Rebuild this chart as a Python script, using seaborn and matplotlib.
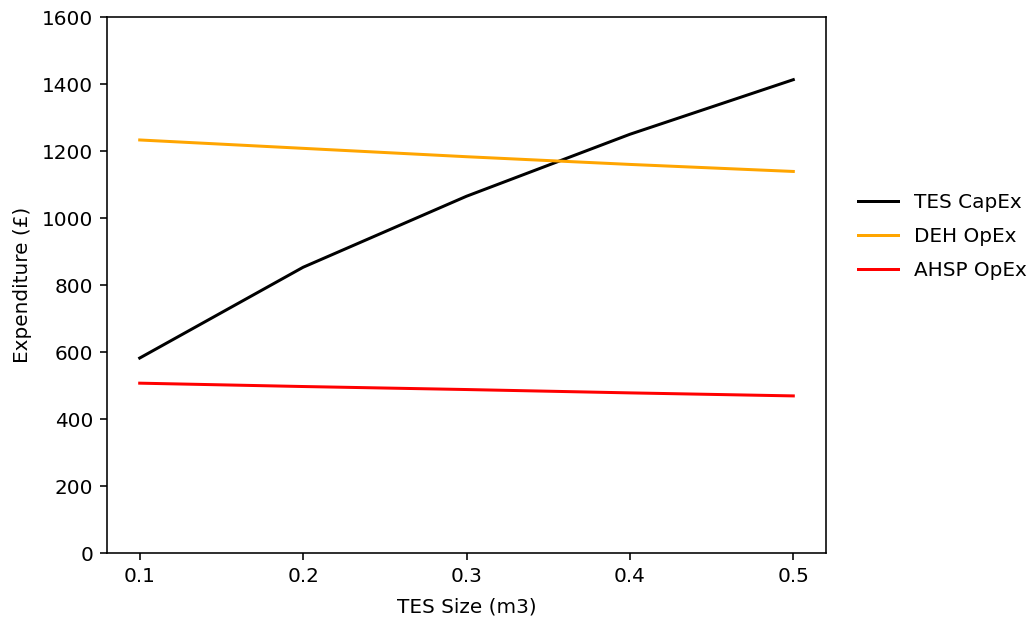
import matplotlib
matplotlib.use("Agg")
import matplotlib.pyplot as plt
import seaborn as sns
import pandas as pd

tes_size = [0.1, 0.2, 0.3, 0.4, 0.5]
tes_capex = [582, 853, 1065, 1250, 1413]
deh_opex = [1233, 1208, 1183, 1160, 1139]
ahsp_opex = [507, 497, 488, 478, 469]

series = [("TES CapEx", tes_capex, "black"),
          ("DEH OpEx", deh_opex, "orange"),
          ("AHSP OpEx", ahsp_opex, "red")]

DPI = 144
fig = plt.figure(figsize=(1033 / DPI, 619 / DPI), dpi=DPI)
ax = fig.add_axes([0.1036, 0.1066, 0.6960, 0.8659])
for name, vals, col in series:
    df = pd.DataFrame({"x": tes_size, "y": vals})
    sns.lineplot(data=df, x="x", y="y", ax=ax, color=col, label=name)

ax.set_ylim(0, 1600)
ax.set_xticks(tes_size)
ax.set_xlabel("TES Size (m3)", labelpad=5.5)
ax.set_ylabel("Expenditure (£)", labelpad=5)
ax.legend(loc="center left", bbox_to_anchor=(1.02, 0.59), frameon=False,
          labelspacing=0.75)
fig.savefig("out.png", dpi=DPI)
